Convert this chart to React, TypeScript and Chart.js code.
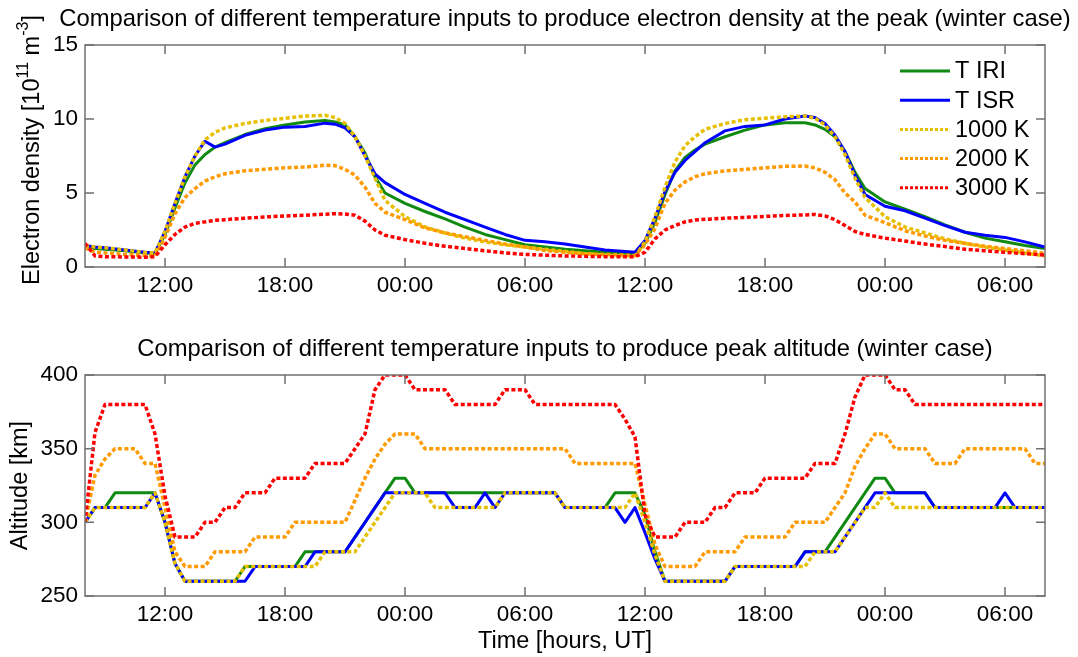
import React, { useEffect, useRef } from 'react';
import { Chart, registerables } from 'chart.js';

Chart.register(...registerables);

const FONT_FAMILY = "'Liberation Sans', Arial, Helvetica, sans-serif";

// ---------------- data ----------------
const seriesLabels = ['T IRI', 'T ISR', '1000 K', '2000 K', '3000 K'];
const xTickHours = [12, 18, 24, 30, 36, 42, 48, 54]; // hours since day-1 00:00 UT
const densityTicks = [0, 5, 10, 15];
const altitudeTicks = [250, 300, 350, 400];

const densityTitle = 'Comparison of different temperature inputs to produce electron density at the peak (winter case)';
const altitudeTitle = 'Comparison of different temperature inputs to produce peak altitude (winter case)';
// electron density axis title, split into normal / superscript parts
const densityAxisTitleParts = [
  { text: 'Electron density [10', sup: false },
  { text: '11', sup: true },
  { text: ' m', sup: false },
  { text: '-3', sup: true },
  { text: ']', sup: false },
];
const altitudeAxisTitle = 'Altitude [km]';
const timeAxisTitle = 'Time [hours, UT]';

// electron density at the peak (10^11 m^-3)
const densityHours = [8, 8.5, 9, 10, 11, 11.5, 12, 12.5, 13, 13.5, 14, 14.5, 15, 16, 17, 18, 19, 20, 20.5, 21, 21.5, 22, 22.5, 23, 24, 25, 26, 27, 28, 29, 30, 31, 32, 33, 34, 35, 35.5, 36, 36.5, 37, 37.5, 38, 38.5, 39, 40, 41, 42, 43, 44, 44.5, 45, 45.5, 46, 46.5, 47, 48, 49, 50, 51, 52, 53, 54, 55, 56];
const densityIRI = [1.35, 1.25, 1.2, 1.1, 0.95, 0.9, 2.2, 4.0, 5.7, 6.9, 7.6, 8.1, 8.4, 8.95, 9.35, 9.6, 9.8, 9.9, 9.8, 9.6, 8.8, 7.7, 6.1, 5.0, 4.3, 3.75, 3.25, 2.7, 2.2, 1.85, 1.5, 1.35, 1.2, 1.1, 1.0, 0.93, 0.9, 1.6, 3.0, 4.9, 6.5, 7.4, 7.9, 8.3, 8.8, 9.25, 9.6, 9.75, 9.75, 9.6, 9.3, 8.8, 7.8, 6.4, 5.3, 4.4, 3.9, 3.4, 2.85, 2.35, 1.95, 1.7, 1.45, 1.25];
const densityISR = [1.45, 1.35, 1.3, 1.15, 1.0, 0.95, 2.4, 4.3, 6.1, 7.5, 8.5, 8.1, 8.3, 8.9, 9.25, 9.45, 9.5, 9.72, 9.65, 9.4, 8.8, 7.5, 6.3, 5.7, 4.9, 4.3, 3.7, 3.2, 2.7, 2.2, 1.8, 1.7, 1.55, 1.35, 1.15, 1.05, 1.0, 1.8, 3.3, 5.1, 6.4, 7.2, 7.8, 8.4, 9.2, 9.5, 9.6, 10.0, 10.2, 10.1, 9.7, 8.9, 7.8, 6.2, 4.9, 4.1, 3.8, 3.3, 2.8, 2.35, 2.15, 2.0, 1.7, 1.35];
const density1000K = [1.45, 1.35, 1.3, 1.15, 0.98, 0.95, 2.4, 4.3, 6.1, 7.5, 8.6, 9.1, 9.4, 9.7, 9.9, 10.05, 10.2, 10.25, 10.1, 9.7, 8.8, 7.5, 6.0, 4.5, 3.4, 2.7, 2.3, 1.95, 1.7, 1.5, 1.35, 1.2, 1.05, 0.9, 0.8, 0.72, 0.7, 1.7, 3.4, 5.4, 7.1, 8.2, 8.8, 9.3, 9.7, 9.95, 10.05, 10.15, 10.2, 10.05, 9.6, 8.8, 7.6, 6.0, 4.7, 3.4, 2.7, 2.3, 1.9, 1.6, 1.35, 1.15, 0.95, 0.75];
const density2000K = [1.3, 1.0, 0.95, 0.85, 0.78, 0.75, 2.0, 3.6, 4.7, 5.3, 5.8, 6.1, 6.3, 6.5, 6.6, 6.7, 6.75, 6.88, 6.85, 6.6, 6.2, 5.4, 4.3, 3.7, 3.2, 2.65, 2.3, 2.05, 1.8, 1.55, 1.35, 1.12, 1.0, 0.9, 0.85, 0.8, 0.78, 1.5, 2.6, 4.3, 5.2, 5.75, 6.1, 6.3, 6.5, 6.6, 6.7, 6.8, 6.82, 6.7, 6.4, 5.9, 5.0, 4.4, 3.5, 3.0, 2.45, 2.1, 1.8, 1.6, 1.4, 1.25, 1.1, 0.92];
const density3000K = [1.6, 0.75, 0.7, 0.68, 0.66, 0.7, 1.5, 2.2, 2.7, 2.95, 3.05, 3.15, 3.2, 3.3, 3.38, 3.45, 3.5, 3.57, 3.6, 3.58, 3.5, 3.1, 2.5, 2.15, 1.85, 1.6, 1.4, 1.25, 1.1, 0.95, 0.85, 0.8, 0.75, 0.72, 0.7, 0.7, 0.7, 1.0, 1.9, 2.5, 2.8, 3.05, 3.17, 3.22, 3.3, 3.35, 3.42, 3.48, 3.52, 3.55, 3.45, 3.2, 2.8, 2.4, 2.2, 1.95, 1.75, 1.55, 1.38, 1.2, 1.1, 1.0, 0.9, 0.8];

// peak altitude (km), breakpoints
const altIRIHours = [8, 8.5, 9, 9.5, 11.5, 12, 12.5, 13, 15.5, 16, 18.5, 19, 21, 23, 23.5, 24, 24.5, 31.5, 32, 34, 34.5, 35.5, 36, 36.5, 37, 40, 40.5, 43.5, 44, 45, 47.5, 48, 48.5, 50, 50.5, 56];
const altIRI = [300, 310, 310, 320, 320, 300, 272, 260, 260, 270, 270, 280, 280, 320, 330, 330, 320, 320, 310, 310, 320, 320, 305, 280, 260, 260, 270, 270, 280, 280, 330, 330, 320, 320, 310, 310];
const altISRHours = [8, 8.5, 11, 11.5, 12, 12.5, 13, 16, 16.5, 19, 19.5, 21, 23, 26, 26.5, 27.5, 28, 28.5, 29, 31.5, 32, 34.5, 35, 35.5, 36, 36.5, 37, 40, 40.5, 43.5, 44, 45.5, 47.5, 50, 50.5, 53.5, 54, 54.5, 56];
const altISR = [300, 310, 310, 320, 300, 272, 260, 260, 270, 270, 280, 280, 320, 320, 310, 310, 320, 310, 320, 320, 310, 310, 300, 310, 293, 275, 260, 260, 270, 270, 280, 280, 320, 320, 310, 310, 320, 310, 310];
const alt1000KHours = [8, 8.5, 11, 11.5, 12, 12.5, 13, 15.5, 16, 19.5, 20, 21.5, 23.5, 25, 25.5, 28.5, 29, 31.5, 32, 35, 35.5, 36, 36.5, 37, 40, 40.5, 44, 44.5, 45.5, 47, 47.5, 48, 48.5, 56];
const alt1000K = [300, 310, 310, 320, 300, 272, 260, 260, 270, 270, 280, 280, 320, 320, 310, 310, 320, 320, 310, 310, 320, 300, 278, 260, 260, 270, 270, 280, 280, 310, 310, 320, 310, 310];
const alt2000KHours = [8, 8.5, 9, 9.5, 10.5, 11, 11.5, 12, 12.5, 13, 14, 14.5, 16, 16.5, 18, 18.5, 21, 21.5, 22, 22.5, 23, 23.5, 24.5, 25, 32, 32.5, 35.5, 36, 36.5, 37, 38.5, 39, 40.5, 41, 43, 43.5, 45, 45.5, 46, 46.5, 47, 47.5, 48, 48.5, 50, 50.5, 51.5, 52, 55, 55.5, 56];
const alt2000K = [300, 332, 343, 350, 350, 340, 340, 310, 280, 270, 270, 280, 280, 290, 290, 300, 300, 315, 330, 343, 353, 360, 360, 350, 350, 340, 340, 312, 285, 270, 270, 280, 280, 290, 290, 300, 300, 310, 320, 338, 350, 360, 360, 350, 350, 340, 340, 350, 350, 340, 340];
const alt3000KHours = [8, 8.5, 9, 11, 11.5, 12, 12.5, 13.5, 14, 14.5, 15, 15.5, 16, 17, 17.5, 19, 19.5, 21, 21.5, 22, 22.5, 23, 24, 24.5, 26, 26.5, 28.5, 29, 30, 30.5, 34.5, 35, 35.5, 36, 36.5, 37.5, 38, 39, 39.5, 40, 40.5, 41.5, 42, 44, 44.5, 45.5, 46, 46.5, 47, 48, 48.5, 49, 49.5, 56];
const alt3000K = [300, 361, 380, 380, 360, 318, 290, 290, 300, 300, 310, 310, 320, 320, 330, 330, 340, 340, 350, 360, 390, 400, 400, 390, 390, 380, 380, 390, 390, 380, 380, 370, 358, 305, 290, 290, 300, 300, 310, 310, 320, 320, 330, 330, 340, 340, 360, 385, 400, 400, 390, 390, 380, 380];

// ---------------- styles ----------------
const seriesStyles = [
  { color: '#118a11', width: 3, dash: [] as number[] },
  { color: '#0000ff', width: 3, dash: [] as number[] },
  { color: '#e6c000', width: 3.5, dash: [4, 2.5] },
  { color: '#ff9a00', width: 3.5, dash: [4, 2.5] },
  { color: '#ff0000', width: 3.5, dash: [4, 2.5] },
];
const TICK_SIZE = 22.5;
const TITLE_SIZE = 23.8;
const AXIS_TITLE_SIZE = 23.5;
const LEGEND_SIZE = 23.5;

function fmtHour(v: number) {
  const h = ((Math.round(v) % 24) + 24) % 24;
  return (h < 10 ? '0' : '') + h + ':00';
}

function makeDatasets(series: { x: number[]; y: number[] }[]) {
  return series.map((s, i) => ({
    label: seriesLabels[i],
    data: s.x.map((x, j) => ({ x, y: s.y[j] })),
    borderColor: seriesStyles[i].color,
    backgroundColor: seriesStyles[i].color,
    borderWidth: seriesStyles[i].width,
    borderDash: seriesStyles[i].dash,
    borderCapStyle: 'butt',
    borderJoinStyle: 'round',
    pointRadius: 0,
    pointHoverRadius: 0,
    tension: 0,
    fill: false,
    order: 5 - i,
  }));
}

const boxPlugin = {
  id: 'matlabBox',
  afterDatasetsDraw(chart: any) {
    const { ctx, chartArea, scales } = chart;
    const { left, right, top, bottom } = chartArea;
    const TL = 9;
    ctx.save();
    ctx.strokeStyle = '#707070';
    ctx.lineWidth = 1.5;
    ctx.setLineDash([]);
    ctx.beginPath();
    scales.x.ticks.forEach((t: any) => {
      const px = scales.x.getPixelForValue(t.value);
      ctx.moveTo(px, bottom);
      ctx.lineTo(px, bottom - TL);
      ctx.moveTo(px, top);
      ctx.lineTo(px, top + TL);
    });
    scales.y.ticks.forEach((t: any) => {
      const py = scales.y.getPixelForValue(t.value);
      ctx.moveTo(left, py);
      ctx.lineTo(left + TL, py);
      ctx.moveTo(right, py);
      ctx.lineTo(right - TL, py);
    });
    ctx.stroke();
    ctx.strokeRect(left, top, right - left, bottom - top);
    ctx.restore();
  },
};

// panel title centred over the axes (like MATLAB), drawn above the plot area
function makeTitlePlugin(text: string, centerY: number) {
  return {
    id: 'panelTitle',
    afterDraw(chart: any) {
      const { ctx, chartArea } = chart;
      ctx.save();
      ctx.font = `${TITLE_SIZE}px ${FONT_FAMILY}`;
      ctx.fillStyle = '#000';
      ctx.textAlign = 'center';
      ctx.textBaseline = 'middle';
      ctx.fillText(text, (chartArea.left + chartArea.right) / 2, centerY);
      ctx.restore();
    },
  };
}

const legendPlugin = {
  id: 'insideLegend',
  afterDraw(chart: any) {
    const { ctx, chartArea } = chart;
    ctx.save();
    ctx.font = `${LEGEND_SIZE}px ${FONT_FAMILY}`;
    ctx.textBaseline = 'middle';
    ctx.textAlign = 'left';
    chart.data.datasets.forEach((ds: any, i: number) => {
      const y = chartArea.top + 26 + i * 29.2;
      const x0 = chartArea.right - 145;
      ctx.beginPath();
      ctx.strokeStyle = ds.borderColor;
      ctx.lineWidth = 3;
      ctx.setLineDash(ds.borderDash && ds.borderDash.length ? [3, 2] : []);
      ctx.moveTo(x0, y);
      ctx.lineTo(x0 + 50, y);
      ctx.stroke();
      ctx.setLineDash([]);
      ctx.fillStyle = '#000';
      ctx.fillText(ds.label, x0 + 55, y + 1);
    });
    ctx.restore();
  },
};

// y-axis title with real superscripts (top panel)
const supTitlePlugin = {
  id: 'supAxisTitle',
  afterDraw(chart: any) {
    const { ctx, chartArea } = chart;
    const normal = `${AXIS_TITLE_SIZE}px ${FONT_FAMILY}`;
    const small = `${Math.round(AXIS_TITLE_SIZE * 0.68)}px ${FONT_FAMILY}`;
    ctx.save();
    let total = 0;
    const widths = densityAxisTitleParts.map((p) => {
      ctx.font = p.sup ? small : normal;
      const w = ctx.measureText(p.text).width;
      total += w;
      return w;
    });
    const cx = 33;
    const cy = (chartArea.top + chartArea.bottom) / 2 - 6;
    ctx.translate(cx, cy);
    ctx.rotate(-Math.PI / 2);
    ctx.fillStyle = '#000';
    ctx.textAlign = 'left';
    ctx.textBaseline = 'middle';
    let x = -total / 2;
    densityAxisTitleParts.forEach((p, i) => {
      ctx.font = p.sup ? small : normal;
      ctx.fillText(p.text, x, p.sup ? -9 : 0);
      x += widths[i];
    });
    ctx.restore();
  },
};

function makeOptions(p: {
  topPad: number;
  yTitle?: string;
  yTitlePad: number;
  yMin: number;
  yMax: number;
  yTicks: number[];
  xHeight: number;
  xTitle?: string;
}) {
  const tickFont = { family: FONT_FAMILY, size: TICK_SIZE, weight: 'normal' as const };
  const axisFont = { family: FONT_FAMILY, size: AXIS_TITLE_SIZE, weight: 'normal' as const };
  return {
    responsive: false,
    maintainAspectRatio: false,
    animation: false as const,
    devicePixelRatio: 1,
    layout: { padding: { left: 0, right: 33, top: p.topPad, bottom: 0 } },
    plugins: {
      legend: { display: false },
      tooltip: { enabled: false },
      title: { display: false },
    },
    scales: {
      x: {
        type: 'linear' as const,
        min: 8,
        max: 56,
        afterBuildTicks: (s: any) => {
          s.ticks = xTickHours.map((v) => ({ value: v }));
        },
        afterFit: (s: any) => {
          s.height = p.xHeight;
        },
        grid: { display: false, drawTicks: false },
        border: { display: false },
        ticks: {
          padding: 5,
          font: tickFont,
          color: '#000',
          maxRotation: 0,
          autoSkip: false,
          callback: (v: any) => fmtHour(Number(v)),
        },
        title: p.xTitle
          ? { display: true, text: p.xTitle, font: axisFont, color: '#000', padding: { top: 0, bottom: 1 } }
          : { display: false },
      },
      y: {
        type: 'linear' as const,
        min: p.yMin,
        max: p.yMax,
        afterBuildTicks: (s: any) => {
          s.ticks = p.yTicks.map((v) => ({ value: v }));
        },
        afterFit: (s: any) => {
          s.width = 85;
        },
        grid: { display: false, drawTicks: false },
        border: { display: false },
        ticks: { padding: 7, font: tickFont, color: '#000', autoSkip: false },
        title: p.yTitle
          ? { display: true, text: p.yTitle, font: axisFont, color: '#000', padding: { top: p.yTitlePad, bottom: 0 } }
          : { display: false },
      },
    },
  };
}

export default function App() {
  const topRef = useRef<HTMLCanvasElement>(null);
  const botRef = useRef<HTMLCanvasElement>(null);

  useEffect(() => {
    Chart.defaults.color = '#000';
    const topChart = new Chart(topRef.current as HTMLCanvasElement, {
      type: 'line',
      data: {
        datasets: makeDatasets([
          { x: densityHours, y: densityIRI },
          { x: densityHours, y: densityISR },
          { x: densityHours, y: density1000K },
          { x: densityHours, y: density2000K },
          { x: densityHours, y: density3000K },
        ]) as any,
      },
      options: makeOptions({
        topPad: 45,
        yTitlePad: 0,
        yMin: 0,
        yMax: 15,
        yTicks: densityTicks,
        xHeight: 43,
      }) as any,
      plugins: [boxPlugin, legendPlugin, supTitlePlugin, makeTitlePlugin(densityTitle, 19.5)],
    });

    const botChart = new Chart(botRef.current as HTMLCanvasElement, {
      type: 'line',
      data: {
        datasets: makeDatasets([
          { x: altIRIHours, y: altIRI },
          { x: altISRHours, y: altISR },
          { x: alt1000KHours, y: alt1000K },
          { x: alt2000KHours, y: alt2000K },
          { x: alt3000KHours, y: alt3000K },
        ]) as any,
      },
      options: makeOptions({
        topPad: 55,
        yTitle: altitudeAxisTitle,
        yTitlePad: 6.6,
        yMin: 250,
        yMax: 400,
        yTicks: altitudeTicks,
        xHeight: 61,
        xTitle: timeAxisTitle,
      }) as any,
      plugins: [boxPlugin, makeTitlePlugin(altitudeTitle, 29)],
    });

    return () => {
      topChart.destroy();
      botChart.destroy();
    };
  }, []);

  return (
    <div style={{ position: 'absolute', left: 0, top: 0, width: 1078, height: 657, background: '#fff' }}>
      <canvas ref={topRef} width={1078} height={310} style={{ position: 'absolute', left: 0, top: 0 }} />
      <canvas ref={botRef} width={1078} height={337} style={{ position: 'absolute', left: 0, top: 320 }} />
    </div>
  );
}
